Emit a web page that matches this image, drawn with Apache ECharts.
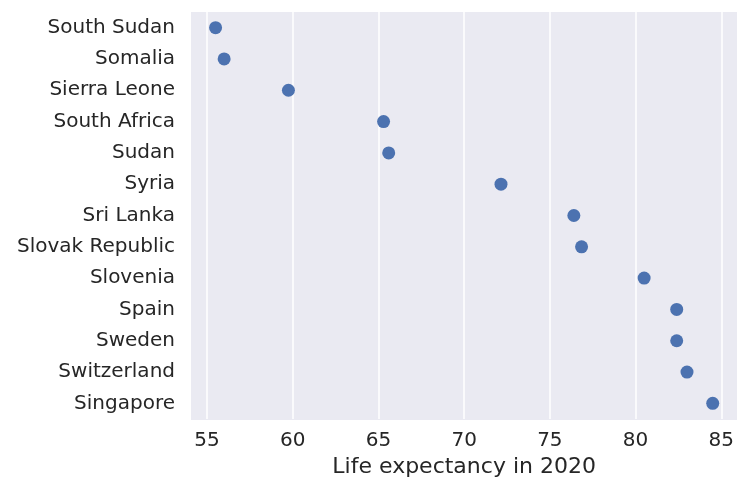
<!DOCTYPE html>
<html><head><meta charset="utf-8">
<script src="https://cdn.jsdelivr.net/npm/echarts@6/dist/echarts.min.js"></script>
<style>html,body{margin:0;padding:0;background:#fff;overflow:hidden}#c{width:737px;height:483px}</style>
</head><body><div id="c"></div>
<script>
const countries = ["South Sudan","Somalia","Sierra Leone","South Africa","Sudan","Syria","Sri Lanka","Slovak Republic","Slovenia","Spain","Sweden","Switzerland","Singapore"];
const lifeExpectancy = [55.5,56.0,59.75,65.3,65.6,72.15,76.4,76.85,80.5,82.4,82.4,83.0,84.5];
const xTicks = [55,60,65,70,75,80,85];

const chart = echarts.init(document.getElementById('c'));
chart.setOption({
  animation:false,
  textStyle:{fontFamily:'DejaVu Sans'},
  grid:[
    {left:191,right:0,top:12,bottom:63,show:true,backgroundColor:'#eaeaf2',borderWidth:0},
    {left:207,right:11,top:12,bottom:63,show:false}
  ],
  xAxis:[
    {gridIndex:0,type:'value',min:0,max:1,show:false},
    {gridIndex:1,type:'value',min:xTicks[0],max:xTicks[xTicks.length-1],interval:5,
    name:'Life expectancy in 2020',nameLocation:'middle',nameGap:37,
    nameTextStyle:{fontSize:22,color:'#262626'},
    axisLine:{show:false},axisTick:{show:false},
    axisLabel:{fontSize:20,color:'#262626',margin:12},
    splitLine:{show:true,lineStyle:{color:'#ffffff',width:1.5}}}
  ],
  yAxis:[
    {gridIndex:0,type:'value',min:0,max:1,show:false},
    {gridIndex:1,type:'category',data:countries,inverse:true,
    axisLine:{show:false},axisTick:{show:false},splitLine:{show:false},
    axisLabel:{fontSize:20,color:'#262626',margin:32}}
  ],
  series:[{type:'scatter',xAxisIndex:1,yAxisIndex:1,data:lifeExpectancy,symbolSize:13,
    itemStyle:{color:'#4c72b0',opacity:1}}]
});
</script></body></html>
